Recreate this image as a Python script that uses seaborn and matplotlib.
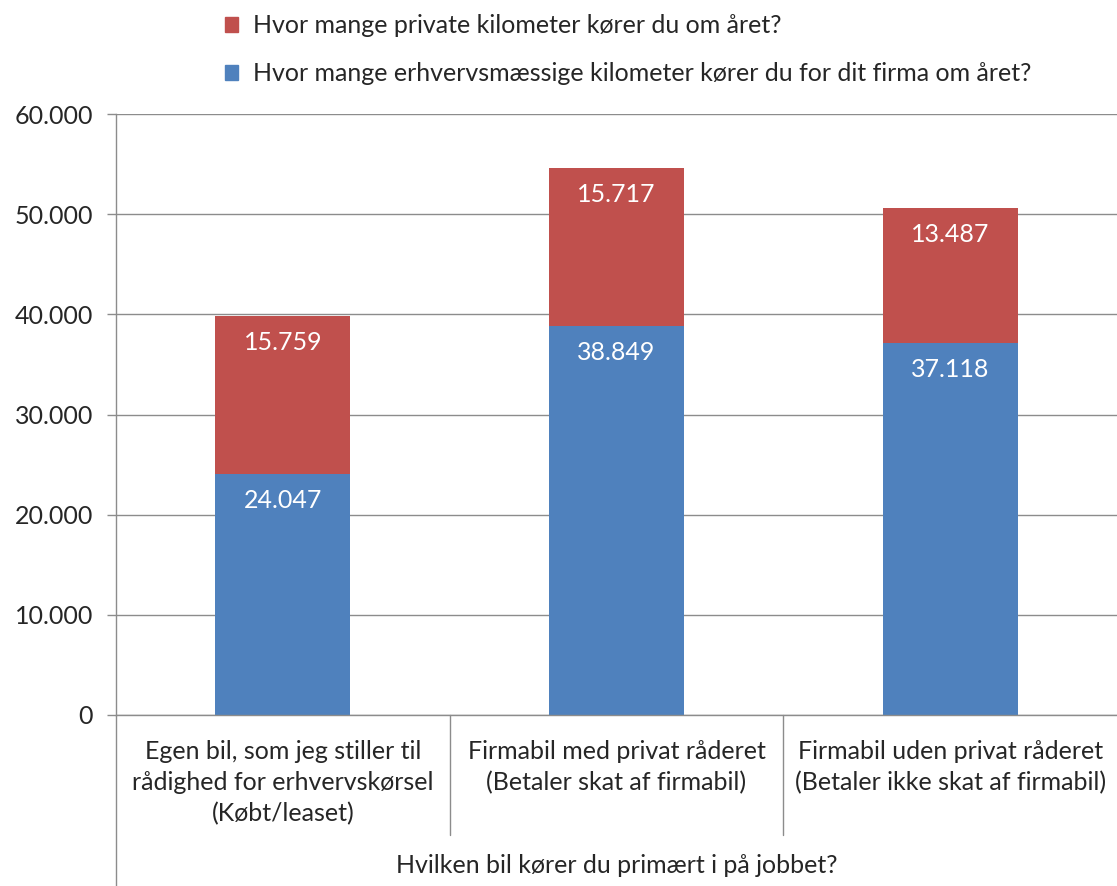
import matplotlib
matplotlib.use("Agg")
import matplotlib.pyplot as plt
import pandas as pd
import seaborn as sns
from matplotlib.patches import Patch

categories = [
    "Egen bil, som jeg stiller til\nrådighed for erhvervskørsel\n(Købt/leaset)",
    "Firmabil med privat råderet\n(Betaler skat af firmabil)",
    "Firmabil uden privat råderet\n(Betaler ikke skat af firmabil)",
]
erhverv = [24047, 38849, 37118]
privat = [15759, 15717, 13487]
erhverv_label = "Hvor mange erhvervsmæssige kilometer kører du for dit firma om året?"
privat_label = "Hvor mange private kilometer kører du om året?"
x_title = "Hvilken bil kører du primært i på jobbet?"
yticks = [0, 10000, 20000, 30000, 40000, 50000, 60000]

blue = "#4F81BD"
red = "#C0504D"
grey = "#8C8C8C"

def fmt(v):
    return f"{v:,}".replace(",", ".")

df = pd.DataFrame({"cat": categories, "erhverv": erhverv, "privat": privat})
df["total"] = df["erhverv"] + df["privat"]

sns.set_theme(style="white")
plt.rcParams["font.family"] = ["Lato", "DejaVu Sans"]
fs = 18

fig = plt.figure(figsize=(11.17, 8.86), dpi=100)
ax = fig.add_axes([116 / 1117, 171 / 886, 1001 / 1117, 601 / 886])

sns.barplot(data=df, x="cat", y="total", color=red, width=0.405, saturation=1, linewidth=0, ax=ax)
sns.barplot(data=df, x="cat", y="erhverv", color=blue, width=0.405, saturation=1, linewidth=0, ax=ax)

ax.set_ylim(0, 60000)
ax.set_xlim(-0.5, 2.5)
ax.set_yticks(yticks)
ax.set_yticklabels([fmt(v) for v in yticks], fontsize=fs)
ax.yaxis.grid(True, color=grey, linewidth=1)
ax.set_axisbelow(True)
ax.tick_params(axis="y", length=6.5, color=grey, width=1, pad=10, left=True)
ax.tick_params(axis="x", length=0, pad=18, labelsize=fs)
ax.set_xticks(range(len(categories)))
ax.set_xticklabels(categories, linespacing=1.42)
ax.set_xlabel("")
ax.set_ylabel("")

for s in ["top", "right"]:
    ax.spines[s].set_visible(False)
for s in ["left", "bottom"]:
    ax.spines[s].set_color(grey)
    ax.spines[s].set_linewidth(1)

# extended axis line and category separators
trans = ax.get_xaxis_transform()
ax.plot([-0.5, -0.5], [0, -0.29], transform=trans, color=grey, lw=1, clip_on=False)
for xs in [0.5, 1.5]:
    ax.plot([xs, xs], [0, -0.2], transform=trans, color=grey, lw=1, clip_on=False)

ax.text(1, -0.25, x_title, transform=trans, ha="center", va="center", fontsize=fs)

for i in range(len(categories)):
    ax.annotate(fmt(erhverv[i]), (i, erhverv[i]), xytext=(0, -19), textcoords="offset points",
                ha="center", va="center", color="white", fontsize=fs)
    ax.annotate(fmt(privat[i]), (i, erhverv[i] + privat[i]), xytext=(0, -19), textcoords="offset points",
                ha="center", va="center", color="white", fontsize=fs)

handles = [Patch(color=red, label=privat_label), Patch(color=blue, label=erhverv_label)]
fig.legend(handles=handles, loc="upper left", bbox_to_anchor=(202 / 1117, 1.0 + 8 / 886),
           frameon=False, fontsize=fs, handlelength=0.55, handleheight=0.55,
           handletextpad=0.6, labelspacing=1.0)

fig.savefig("out.png", dpi=100)
